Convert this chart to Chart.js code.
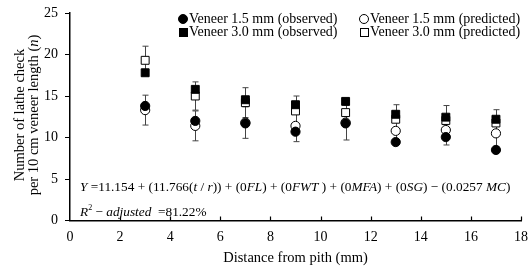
<!DOCTYPE html>
<html><head><meta charset="utf-8">
<script src="https://cdn.jsdelivr.net/npm/chart.js@4/dist/chart.umd.min.js"></script>
<style>
html,body{margin:0;padding:0;background:#fff;}
#wrap{position:relative;width:529px;height:270px;font-family:"Liberation Serif","Times New Roman",serif;color:#000;overflow:hidden;}
#c{position:absolute;left:0;top:0;}
.lg{position:absolute;white-space:nowrap;font-size:14px;line-height:14px;}
.mk{position:absolute;box-sizing:border-box;}
#ytitle{position:absolute;left:-73px;top:100px;width:200px;height:30px;line-height:14px;font-size:14.5px;text-align:center;transform:rotate(-90deg);white-space:nowrap;}
#eq1,#eq2{position:absolute;font-size:13.3px;white-space:nowrap;line-height:14px;}
</style>
</head><body>
<div id="wrap">
<canvas id="c" width="529" height="270"></canvas>
<div id="ytitle">Number of lathe check<br>per 10 cm veneer length (<i>n</i>)</div>
<div id="legend"></div>
<div id="eq1"><i>Y</i> =11.154 + (11.766(<i>t</i> / <i>r</i>)) + (0<i>FL</i>) + (0<i>FWT</i> ) + (0<i>MFA</i>) + (0<i>SG</i>) − (0.0257 <i>MC</i>)</div>
<div id="eq2"><i>R</i><sup style="font-size:8px;vertical-align:6px">2</sup> − <i>adjusted</i>&nbsp; =81.22%</div>
</div>
<script>
// ---- data ----
const distances = [3, 5, 7, 9, 11, 13, 15, 17];
const obs15  = [13.8, 12.0, 11.7, 10.7, 11.7, 9.45, 10.05, 8.5];
const pred15 = [13.3, 11.4, 11.8, 11.4, 11.8, 10.8, 10.9, 10.5];
const obs30  = [17.8, 15.8, 14.55, 13.95, 14.35, 12.8, 12.45, 12.2];
const pred30 = [19.3, 15.0, 14.2, 13.2, 13.0, 12.2, 12.05, 11.75];
const err15  = [1.8, 1.8, 1.9, 1.9, 2.1, 1.5, 1.8, 1.6];
const err30  = [1.7, 1.7, 1.8, 1.8, 1.5, 1.75, 1.8, 1.6];
const seriesLabels = ['Veneer 1.5 mm (observed)', 'Veneer 1.5 mm (predicted)', 'Veneer 3.0 mm (observed)', 'Veneer 3.0 mm (predicted)'];
const xTicks = [0, 2, 4, 6, 8, 10, 12, 14, 16, 18];
const yTicks = [0, 5, 10, 15, 20, 25];
const xTitle = 'Distance from pith (mm)';

const FONT = '"Liberation Serif","Times New Roman",serif';
const pts = arr => distances.map((x, i) => ({x: x, y: arr[i]}));

const errorBars = {
  id: 'errorBars',
  beforeDatasetsDraw(chart) {
    const {ctx, scales: {x, y}} = chart;
    ctx.save();
    ctx.strokeStyle = '#444';
    ctx.lineWidth = 1;
    [[pred15, err15], [pred30, err30]].forEach(([vals, errs]) => {
      vals.forEach((v, i) => {
        const px = Math.round(x.getPixelForValue(distances[i])) + 0.5;
        const y1 = y.getPixelForValue(v + errs[i]);
        const y2 = y.getPixelForValue(v - errs[i]);
        ctx.beginPath();
        ctx.moveTo(px, y1); ctx.lineTo(px, y2);
        ctx.moveTo(px - 3, y1); ctx.lineTo(px + 3, y1);
        ctx.moveTo(px - 3, y2); ctx.lineTo(px + 3, y2);
        ctx.stroke();
      });
    });
    ctx.restore();
  }
};

const innerTicks = {
  id: 'innerTicks',
  afterDraw(chart) {
    const {ctx, scales: {x}, chartArea} = chart;
    ctx.save();
    ctx.strokeStyle = '#000';
    ctx.lineWidth = 1.2;
    xTicks.forEach(v => {
      if (v === 0) return;
      const px = Math.round(x.getPixelForValue(v)) + 0.5;
      ctx.beginPath();
      ctx.moveTo(px, chartArea.bottom);
      ctx.lineTo(px, chartArea.bottom - 4);
      ctx.stroke();
    });
    ctx.restore();
  }
};

const chart = new Chart(document.getElementById('c'), {
  type: 'scatter',
  data: {
    datasets: [
      {label: seriesLabels[0], data: pts(obs15), pointStyle: 'circle', pointRadius: 4.6, backgroundColor: '#000', borderColor: '#000', borderWidth: 1, order: 0},
      {label: seriesLabels[1], data: pts(pred15), pointStyle: 'circle', pointRadius: 4.6, backgroundColor: '#fff', borderColor: '#000', borderWidth: 1, order: 2},
      {label: seriesLabels[2], data: pts(obs30), pointStyle: 'rect', pointRadius: 5.6, backgroundColor: '#000', borderColor: '#000', borderWidth: 1, order: 1},
      {label: seriesLabels[3], data: pts(pred30), pointStyle: 'rect', pointRadius: 5.6, backgroundColor: '#fff', borderColor: '#000', borderWidth: 1, order: 3}
    ]
  },
  options: {
    responsive: false,
    animation: false,
    devicePixelRatio: 1,
    layout: {padding: {left: 0, right: 8, top: 13, bottom: 0}},
    plugins: {legend: {display: false}, tooltip: {enabled: false}},
    scales: {
      x: {
        type: 'linear', min: 0, max: 18,
        afterBuildTicks: s => { s.ticks = xTicks.map(v => ({value: v})); },
        ticks: {color: '#000', font: {family: FONT, size: 14}, padding: 8},
        grid: {display: false, drawTicks: false, drawOnChartArea: false},
        border: {display: true, color: '#000', width: 1.5},
        title: {display: true, text: xTitle, color: '#000', font: {family: FONT, size: 14.5}, padding: {top: 0, bottom: 3.5}},
        afterFit: s => { s.height = 49.5; s.paddingLeft = 0; s.paddingRight = 0; }
      },
      y: {
        type: 'linear', min: 0, max: 25,
        afterBuildTicks: s => { s.ticks = yTicks.map(v => ({value: v})); },
        ticks: {color: '#000', font: {family: FONT, size: 14}, padding: 7},
        grid: {display: true, drawOnChartArea: false, drawTicks: true, tickLength: 5, color: '#000', lineWidth: 1},
        border: {display: true, color: '#000', width: 1.5},
        afterFit: s => { s.width = 70; s.paddingTop = 0; s.paddingBottom = 0; }
      }
    }
  },
  plugins: [errorBars, innerTicks]
});

// ---- HTML legend built from the datasets ----
const legendPos = [
  {mx: 183, my: 19, tx: 189},
  {mx: 364, my: 19, tx: 370},
  {mx: 183, my: 32, tx: 189},
  {mx: 364, my: 32, tx: 370}
];
const lg = document.getElementById('legend');
chart.data.datasets.forEach((ds, i) => {
  const p = legendPos[i];
  const m = document.createElement('div');
  m.className = 'mk';
  const isCircle = ds.pointStyle === 'circle';
  const size = isCircle ? 10 : 9;
  m.style.width = size + 'px';
  m.style.height = size + 'px';
  m.style.left = (p.mx - size / 2) + 'px';
  m.style.top = (p.my - size / 2) + 'px';
  m.style.background = ds.backgroundColor;
  m.style.border = '1px solid ' + ds.borderColor;
  if (isCircle) m.style.borderRadius = '50%';
  lg.appendChild(m);
  const t = document.createElement('div');
  t.className = 'lg';
  t.textContent = ds.label;
  t.style.left = p.tx + 'px';
  t.style.top = (p.my - 7) + 'px';
  lg.appendChild(t);
});
const eq1 = document.getElementById('eq1');
eq1.style.left = '80px'; eq1.style.top = '180px';
const eq2 = document.getElementById('eq2');
eq2.style.left = '80px'; eq2.style.top = '201px';
</script>
</body></html>
